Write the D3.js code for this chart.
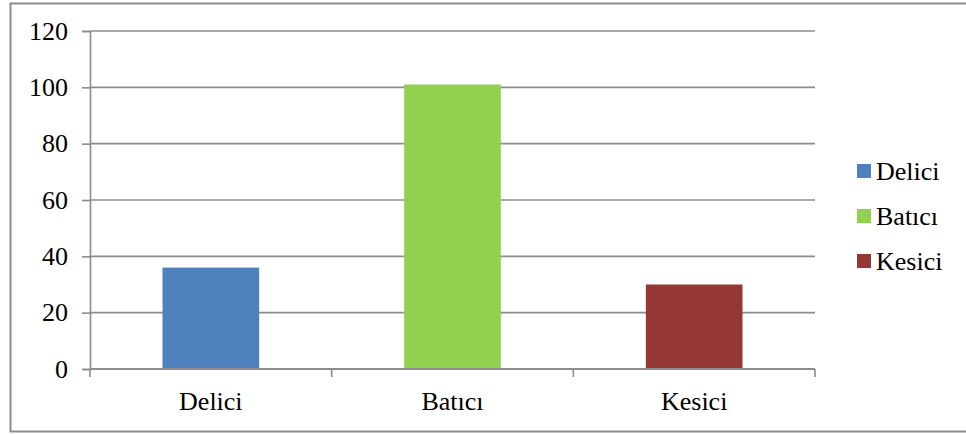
<!DOCTYPE html>
<html>
<head>
<meta charset="utf-8">
<script src="https://cdn.jsdelivr.net/npm/d3@7"></script>
<style>
  body { margin: 0; background: #fff; }
  text { font-family: "Liberation Serif", "Times New Roman", serif; fill: #000; }
</style>
</head>
<body>
<div id="vis"></div>
<script>
// Chart data
var categories = ["Delici", "Batıcı", "Kesici"];
var values = [36, 101, 30];
var colors = ["#4F81BD", "#92D050", "#953735"];
var yTicks = [0, 20, 40, 60, 80, 100, 120];

// SVG width and height
var width = 966;
var height = 434;

// Plot area
var margin = { top: 31, right: 151, bottom: 65, left: 90 };
var drawWidth = width - margin.left - margin.right;
var drawHeight = height - margin.top - margin.bottom;

var svg = d3.select("#vis").append("svg").attr("width", width).attr("height", height);

// outer frame
svg.append("rect")
    .attr("x", 10.5).attr("y", 3.5)
    .attr("width", 970).attr("height", 428)
    .attr("fill", "none").attr("stroke", "#8c8c8c").attr("stroke-width", 2);

var g = svg.append("g").attr("transform", "translate(" + margin.left + "," + margin.top + ")");

// scales
var xScale = d3.scaleBand().domain(categories).range([0, drawWidth]).padding(0);
var yScale = d3.scaleLinear().domain([0, 120]).range([drawHeight, 0]);

// gridlines
g.selectAll(".grid").data(yTicks).enter().append("line")
    .attr("class", "grid")
    .attr("x1", 0).attr("x2", drawWidth)
    .attr("y1", function(d) { return yScale(d); })
    .attr("y2", function(d) { return yScale(d); })
    .attr("stroke", "#8c8c8c").attr("stroke-width", 1.6);

// y axis
var yAxis = d3.axisLeft(yScale).tickValues(yTicks).tickSize(8).tickPadding(14);
var yG = g.append("g").call(yAxis);
yG.select(".domain").attr("stroke", "#8c8c8c").attr("stroke-width", 1.6);
yG.selectAll(".tick line").attr("stroke", "#8c8c8c").attr("stroke-width", 1.6);
yG.selectAll(".tick text").style("font-size", "26px").attr("fill", "#000")
    .style("font-family", "'Liberation Serif', serif");

// bars
var barW = xScale.bandwidth() * 0.4;
g.selectAll(".bar").data(values).enter().append("rect")
    .attr("class", "bar")
    .attr("x", function(d, i) { return xScale(categories[i]) + (xScale.bandwidth() - barW) / 2; })
    .attr("width", barW)
    .attr("y", function(d) { return yScale(d); })
    .attr("height", function(d) { return drawHeight - yScale(d); })
    .attr("fill", function(d, i) { return colors[i]; });

// x axis line
g.append("line")
    .attr("x1", 0).attr("x2", drawWidth)
    .attr("y1", drawHeight).attr("y2", drawHeight)
    .attr("stroke", "#8c8c8c").attr("stroke-width", 2);

// category boundary ticks
var bounds = categories.map(function(c) { return xScale(c); }).concat([drawWidth]);
g.selectAll(".xtick").data(bounds).enter().append("line")
    .attr("x1", function(d) { return d; }).attr("x2", function(d) { return d; })
    .attr("y1", drawHeight).attr("y2", drawHeight + 8)
    .attr("stroke", "#8c8c8c").attr("stroke-width", 1.6);

// category labels
g.selectAll(".xlabel").data(categories).enter().append("text")
    .attr("x", function(d) { return xScale(d) + xScale.bandwidth() / 2; })
    .attr("y", drawHeight + 41)
    .attr("text-anchor", "middle")
    .style("font-size", "26px")
    .text(function(d) { return d; });

// legend
var legend = svg.append("g").attr("transform", "translate(857,171)");
var items = legend.selectAll(".item").data(categories).enter().append("g")
    .attr("transform", function(d, i) { return "translate(0," + (i * 45) + ")"; });
items.append("rect")
    .attr("x", 0).attr("y", -7).attr("width", 14).attr("height", 14)
    .attr("fill", function(d, i) { return colors[i]; });
items.append("text")
    .attr("x", 19).attr("y", 9)
    .style("font-size", "26px")
    .text(function(d) { return d; });
</script>
</body>
</html>
